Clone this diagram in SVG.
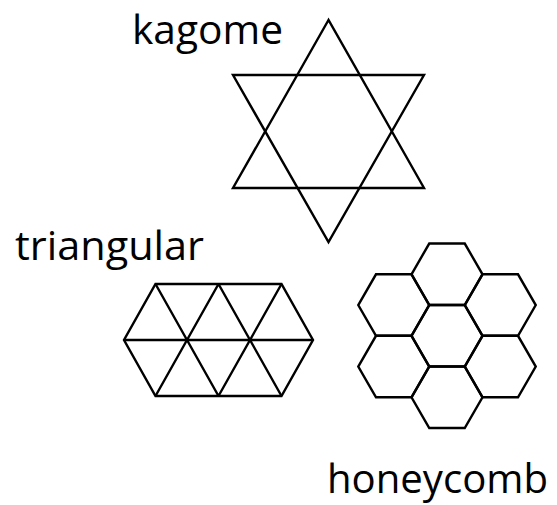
<svg xmlns="http://www.w3.org/2000/svg" width="557" height="505" viewBox="0 0 557 505">
<style>
.ln{fill:none;stroke:#000;stroke-width:2.4;stroke-linejoin:miter}
.lbl{font-family:"Open Sans","Noto Sans","Liberation Sans",sans-serif;font-size:40px;fill:#000}
</style>
<rect width="557" height="505" fill="#fff"/>
<g id="kagome">
<text class="lbl" x="132" y="43.5" textLength="151" lengthAdjust="spacingAndGlyphs">kagome</text>
<polygon class="ln" points="328.5,20 233,188 424,188"/>
<polygon class="ln" points="233,75 424,75 328.5,242"/>
</g>
<g id="triangular">
<text class="lbl" x="15" y="260" textLength="189" lengthAdjust="spacingAndGlyphs">triangular</text>
<polygon class="ln" points="155.5,284 281.5,284 313,340 281.5,396 155.5,396 124,340"/>
<path class="ln" d="M124,340H313 M155.5,396L218.5,284 M218.5,396L281.5,284 M155.5,284L218.5,396 M218.5,284L281.5,396"/>
</g>
<g id="honeycomb">
<text class="lbl" x="327" y="493" textLength="221" lengthAdjust="spacingAndGlyphs">honeycomb</text>
<defs>
<polygon id="hex" points="-35.5,0 -17.75,-30.75 17.75,-30.75 35.5,0 17.75,30.75 -17.75,30.75"/>
</defs>
<use href="#hex" class="ln" x="447" y="274.3"/>
<use href="#hex" class="ln" x="447" y="335.8"/>
<use href="#hex" class="ln" x="447" y="397.3"/>
<use href="#hex" class="ln" x="393.75" y="305.05"/>
<use href="#hex" class="ln" x="500.25" y="305.05"/>
<use href="#hex" class="ln" x="393.75" y="366.55"/>
<use href="#hex" class="ln" x="500.25" y="366.55"/>
</g>
</svg>
